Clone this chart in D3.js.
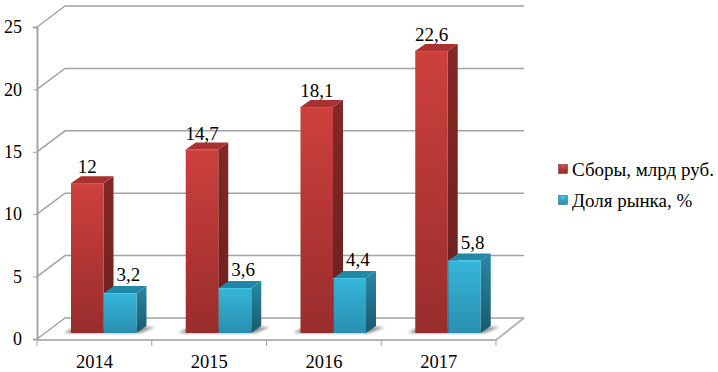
<!DOCTYPE html>
<html>
<head>
<meta charset="utf-8">
<script src="https://cdn.jsdelivr.net/npm/d3@7"></script>
<style>
  html, body { margin: 0; padding: 0; background: #fff; }
  svg { display: block; }
  text { font-family: "Liberation Serif", serif; fill: #000; }
</style>
</head>
<body>
<div id="chart"></div>
<script>
// Data
var years = ["2014", "2015", "2016", "2017"];
var seriesNames = ["Сборы, млрд руб.", "Доля рынка, %"];
var collections = [12, 14.7, 18.1, 22.6];
var marketShare = [3.2, 3.6, 4.4, 5.8];
var collectionLabels = ["12", "14,7", "18,1", "22,6"];
var shareLabels = ["3,2", "3,6", "4,4", "5,8"];
var yTicks = [0, 5, 10, 15, 20, 25];

var width = 718, height = 372;

// 3D box geometry
var wallDx = 28, wallDy = -21;   // depth of the floor and side wall
var barDx = 10, barDy = -7;      // depth of one bar
var baseLift = 6;                // bars stand a little behind the front edge
var gridColor = "#a3a3a3";

var svg = d3.select("#chart").append("svg")
    .attr("width", width)
    .attr("height", height);

var x = d3.scaleBand().domain(years).range([37, 496]);
var inner = d3.scaleBand().domain(seriesNames).range([34, 100]);
var y = d3.scaleLinear().domain([0, 25]).range([339, 27]);

var colors = [
    { top: "#a93130", rim: "#d9504c", frontA: "#cd403d", frontB: "#982d2c", sideA: "#852726", sideB: "#6b1f1f", labelDx: 0, labelDy: -3 },
    { top: "#2089a8", rim: "#4cc6e4", frontA: "#35b6da", frontB: "#2a8fae", sideA: "#2a87a4", sideB: "#1a5a6e", labelDx: 8, labelDy: -5 }
];

// Gradients
var defs = svg.append("defs");
colors.forEach(function (c, i) {
    var g1 = defs.append("linearGradient").attr("id", "front" + i)
        .attr("x1", 0).attr("y1", 0).attr("x2", 0).attr("y2", 1);
    g1.append("stop").attr("offset", 0).attr("stop-color", c.frontA);
    g1.append("stop").attr("offset", 1).attr("stop-color", c.frontB);
    var g2 = defs.append("linearGradient").attr("id", "side" + i)
        .attr("x1", 0).attr("y1", 0).attr("x2", 0).attr("y2", 1);
    g2.append("stop").attr("offset", 0).attr("stop-color", c.sideA);
    g2.append("stop").attr("offset", 1).attr("stop-color", c.sideB);
});
defs.append("filter").attr("id", "blur")
    .attr("x", "-30%").attr("y", "-30%").attr("width", "160%").attr("height", "160%")
    .append("feGaussianBlur").attr("stdDeviation", 1.6);

// Back wall grid lines and the diagonal on the side wall
var grid = svg.append("g");
yTicks.forEach(function (t) {
    var yy = y(t);
    grid.append("path")
        .attr("d", d3.line()([[x.range()[0], yy], [x.range()[0] + wallDx, yy + wallDy], [x.range()[1] + wallDx, yy + wallDy]]))
        .attr("fill", "none")
        .attr("stroke", gridColor)
        .attr("stroke-width", 1.5);
});

// Floor edges
grid.append("path")
    .attr("d", d3.line()([[x.range()[0], y(0) + 1], [x.range()[1], y(0) + 1], [x.range()[1] + wallDx, y(0) + wallDy]]))
    .attr("fill", "none")
    .attr("stroke", "#b5b5b5")
    .attr("stroke-width", 2);

// Y axis
var yAxis = d3.axisLeft(y).tickValues(yTicks).tickSize(4).tickPadding(11).tickFormat(d3.format("d"));
var yG = svg.append("g").attr("transform", "translate(37,0)").call(yAxis);
yG.select(".domain").attr("stroke", gridColor).attr("stroke-width", 2);
yG.selectAll(".tick line").attr("stroke", gridColor);
yG.selectAll("text").style("font-size", "18px").style("font-family", "Liberation Serif");

// X axis
var xAxis = d3.axisBottom(x).tickSize(7).tickPadding(8).tickSizeOuter(7);
var xG = svg.append("g").attr("transform", "translate(0,340)").call(xAxis);
xG.select(".domain").attr("stroke", "none");
xG.selectAll(".tick line").remove();
xG.selectAll(".boundary")
    .data(years.map(function (d) { return x(d); }).concat(x.range()[1]))
    .enter().append("line")
    .attr("x1", function (d) { return d; })
    .attr("x2", function (d) { return d; })
    .attr("y1", 0).attr("y2", 6)
    .attr("stroke", gridColor);
xG.selectAll("text").style("font-size", "18.5px").style("font-family", "Liberation Serif");

// Bars
var values = [collections, marketShare];
var labels = [collectionLabels, shareLabels];
var base = y(0) - baseLift;

// Shadows go under everything
years.forEach(function (yr) {
    var x0 = x(yr) + inner(seriesNames[0]);
    var x1 = x(yr) + inner(seriesNames[1]) + inner.bandwidth();
    svg.append("polygon")
        .attr("points", [[x0 - 7, base], [x1 + 3, base], [x1 + 18, base - 6], [x1, base - 6], [x0 + 2, base - 5]].join(" "))
        .attr("fill", "#8a8a8a")
        .attr("filter", "url(#blur)");
});

seriesNames.forEach(function (name, s) {
    var g = svg.append("g").attr("class", "series" + s);
    years.forEach(function (yr, i) {
        var left = x(yr) + inner(name);
        var w = inner.bandwidth() - 0.5;
        var topY = base - (y(0) - y(values[s][i]));

        // side face
        g.append("polygon")
            .attr("points", [[left + w, topY], [left + w + barDx, topY + barDy], [left + w + barDx, base + barDy], [left + w, base]].join(" "))
            .attr("fill", "url(#side" + s + ")");
        // top face
        g.append("polygon")
            .attr("points", [[left, topY], [left + barDx, topY + barDy], [left + w + barDx, topY + barDy], [left + w, topY]].join(" "))
            .attr("fill", colors[s].top);
        // front face
        g.append("rect")
            .attr("x", left)
            .attr("y", topY)
            .attr("width", w)
            .attr("height", base - topY)
            .attr("fill", "url(#front" + s + ")");
        // bevel highlight along the top of the front face
        g.append("line")
            .attr("x1", left).attr("x2", left + w)
            .attr("y1", topY + 0.5).attr("y2", topY + 0.5)
            .attr("stroke", colors[s].rim);

        g.append("text")
            .attr("x", left + w / 2 + colors[s].labelDx)
            .attr("y", topY + barDy + colors[s].labelDy)
            .attr("text-anchor", "middle")
            .style("font-size", "19px")
            .text(labels[s][i]);
    });
});

// Legend
var legend = svg.append("g");
seriesNames.forEach(function (name, s) {
    var ly = [170, 201][s];
    legend.append("rect")
        .attr("x", 558.5).attr("y", ly - 5.5)
        .attr("width", 9).attr("height", 9)
        .attr("fill", "url(#front" + s + ")")
        .attr("stroke", colors[s].sideB)
        .attr("stroke-width", 0.5);
    // small lighter notch on the swatch
    legend.append("polygon")
        .attr("points", [[560.5, ly - 4.5], [565.5, ly - 4.5], [563, ly - 1.5]].join(" "))
        .attr("fill", colors[s].rim);
    legend.append("text")
        .attr("x", 572).attr("y", ly + 6)
        .style("font-size", "19px")
        .text(name);
});
</script>
</body>
</html>
